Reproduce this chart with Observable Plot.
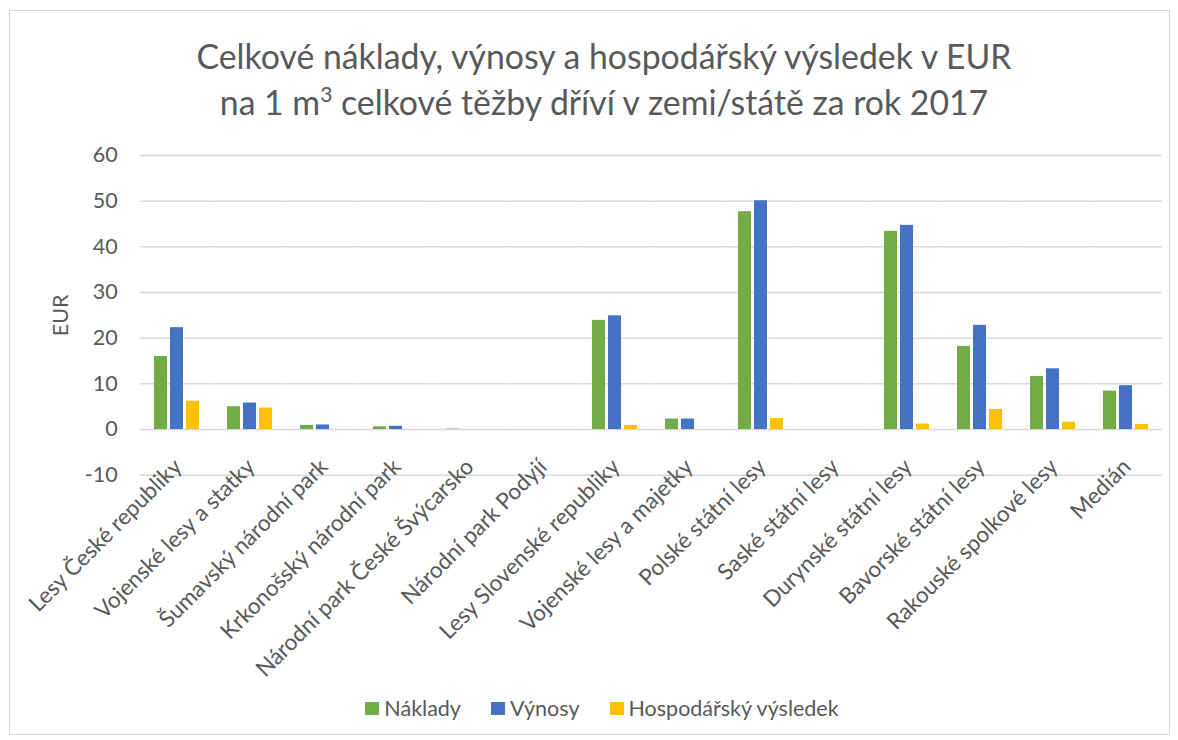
<!DOCTYPE html>
<html>
<head>
<meta charset="utf-8">
<script src="https://cdn.jsdelivr.net/npm/d3@7"></script>
<script src="https://cdn.jsdelivr.net/npm/@observablehq/plot@0.6"></script>
<style>
  html, body { margin: 0; padding: 0; background: #fff; }
  body { width: 1178px; height: 740px; position: relative; overflow: hidden; font-family: Lato, "Open Sans", sans-serif; color: #595959; }
  #frame { position: absolute; left: 9px; top: 10px; width: 1161px; height: 725px; border: 1px solid #d9d9d9; box-sizing: border-box; }
  #title { position: absolute; left: 0; width: 1208px; top: 33px; text-align: center; font-size: 33.8px; letter-spacing: 0; line-height: 46px; color: #595959; }
  #title sup { font-size: 21px; vertical-align: 0; position: relative; top: -13px; }
  #chart { position: absolute; left: 0; top: 130px; }
  #legend { position: absolute; left: 0; width: 1204px; top: 694px; display: flex; justify-content: center; gap: 30px; font-size: 21.5px; line-height: 28px; }
  #legend span.item { display: flex; align-items: center; }
  #legend span.sw { display: inline-block; width: 14px; height: 13px; margin-right: 5px; }
</style>
</head>
<body>
<div id="frame"></div>
<div id="title">Celkové náklady, výnosy a hospodářský výsledek v EUR<br>na 1 m<sup>3</sup> celkové těžby dříví v zemi/státě za rok 2017</div>
<div id="chart"></div>
<div id="legend"></div>
<script>
const categories = [
  "Lesy České republiky",
  "Vojenské lesy a statky",
  "Šumavský národní park",
  "Krkonošský národní park",
  "Národní park České Švýcarsko",
  "Národní park Podyjí",
  "Lesy Slovenské republiky",
  "Vojenské lesy a majetky",
  "Polské státní lesy",
  "Saské státní lesy",
  "Durynské státní lesy",
  "Bavorské státní lesy",
  "Rakouské spolkové lesy",
  "Medián"
];
const series = ["Náklady", "Výnosy", "Hospodářský výsledek"];
const naklady  = [16.0, 5.0, 0.9, 0.6, 0.1, 0, 23.9, 2.3, 47.7, 0, 43.4, 18.2, 11.6, 8.4];
const vynosy   = [22.3, 5.8, 1.0, 0.7, 0, 0, 24.9, 2.3, 50.1, 0, 44.7, 22.8, 13.3, 9.6];
const vysledek = [6.2, 4.7, 0, 0, 0, 0, 0.9, 0, 2.4, 0, 1.2, 4.4, 1.6, 1.1];
const yTicks = [-10, 0, 10, 20, 30, 40, 50, 60];
const colors = ["#70ad47", "#4472c4", "#ffc000"];

const valuesBySeries = [naklady, vynosy, vysledek];
const data = categories.flatMap((c, i) =>
  series.map((s, j) => ({cat: c, s, v: valuesBySeries[j][i]}))
);

// half of the gap between category groups, so gridlines join across facets
const fxPadInner = 0.38, fxPadOuter = 0.19;
const plotLeft = 140, plotRight = 1162;
const step = (plotRight - plotLeft) / categories.length;
const halfGap = step * fxPadOuter;

const chart = Plot.plot({
  width: 1178,
  height: 550,
  marginLeft: plotLeft,
  marginRight: 1178 - plotRight,
  marginTop: 25,
  marginBottom: 205.3,
  style: {fontFamily: "Lato, 'Open Sans', sans-serif", color: "#595959", background: "transparent"},
  y: {domain: [-10, 60], ticks: yTicks},
  fx: {domain: categories, paddingInner: fxPadInner, paddingOuter: fxPadOuter, label: null},
  x: {domain: series, paddingInner: 0.1875, paddingOuter: 0, axis: null},
  color: {domain: series, range: colors},
  marks: [
    Plot.ruleY(yTicks, {stroke: "#d9d9d9", strokeWidth: 1.5, insetLeft: -halfGap, insetRight: -halfGap}),
    Plot.barY(data, {fx: "cat", x: "s", y: "v", fill: "s"}),
    Plot.axisY(yTicks, {tickSize: 0, tickPadding: 23 + halfGap, fontSize: 21.5, tickFormat: d => String(d), label: "EUR", labelAnchor: "center", labelArrow: "none", labelOffset: 88 + halfGap, fill: "#595959"}),
    Plot.axisFx({anchor: "bottom", tickSize: 0, tickRotate: -45, fontSize: 22.5, dy: -24, dx: 1, label: null, fill: "#595959"})
  ]
});
document.getElementById("chart").appendChild(chart);

const legend = document.getElementById("legend");
series.forEach((s, i) => {
  const item = document.createElement("span");
  item.className = "item";
  const sw = document.createElement("span");
  sw.className = "sw";
  sw.style.background = colors[i];
  item.appendChild(sw);
  item.appendChild(document.createTextNode(s));
  legend.appendChild(item);
});
</script>
</body>
</html>
